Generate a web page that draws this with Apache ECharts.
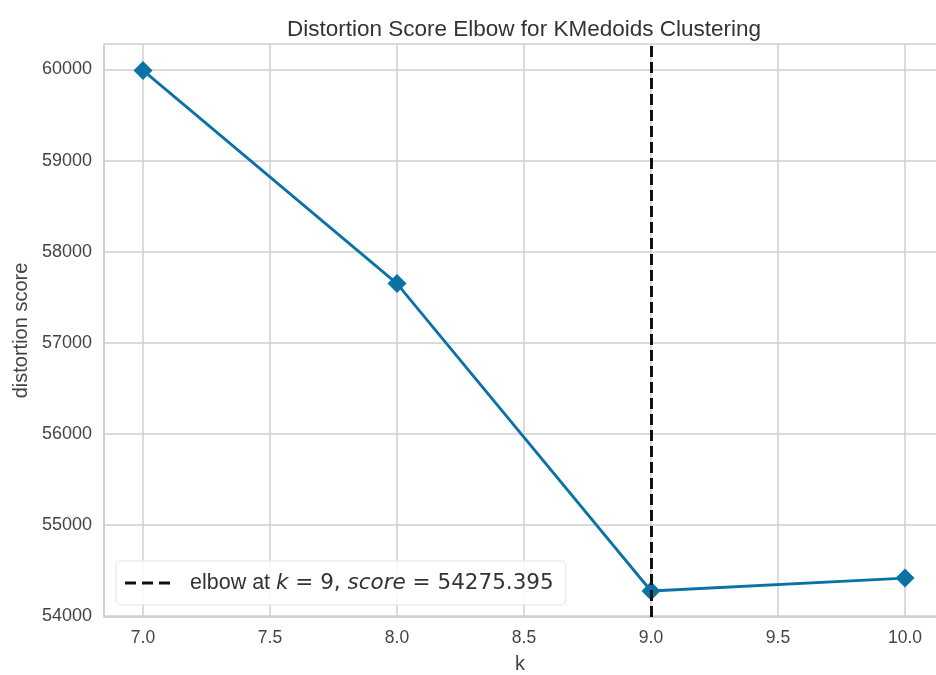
<!DOCTYPE html>
<html>
<head>
<meta charset="utf-8">
<script src="https://cdn.jsdelivr.net/npm/echarts@6/dist/echarts.min.js"></script>
<style>
  html, body { margin: 0; padding: 0; background: #fff; }
  #chart { width: 936px; height: 675px; }
</style>
</head>
<body>
<div id="chart"></div>
<script>
// values
const kValues = [7, 8, 9, 10];
const distortion = [59990, 57650, 54275.395, 54417];
const elbowK = 9;
const elbowScore = '54275.395';
const xLimits = [6.8465, 10.122];
const yLimits = [53990, 60280];

const points = kValues.map((k, i) => [k, distortion[i]]);
const textColor = '#444';
const gridColor = '#cfcfcf';

const chart = echarts.init(document.getElementById('chart'));

const option = {
  backgroundColor: '#fff',
  animation: false,
  title: {
    text: 'Distortion Score Elbow for KMedoids Clustering',
    left: 519,
    textAlign: 'center',
    top: 13,
    textStyle: {
      fontFamily: 'Liberation Sans',
      fontSize: 22.5,
      fontWeight: 'normal',
      color: '#333'
    }
  },
  grid: {
    left: 104,
    right: 0,
    top: 44,
    bottom: 58,
    outerBoundsMode: 'none',
    containLabel: false,
    show: false
  },
  legend: {
    left: 116,
    top: 561,
    padding: [11, 12, 11, 9],
    backgroundColor: 'rgba(255,255,255,0.85)',
    borderColor: '#e3e3e3',
    borderWidth: 1,
    borderRadius: 5,
    itemWidth: 45,
    itemHeight: 14,
    data: [{
      name: 'elbow',
      icon: 'path://M0,0h11v3h-11z M17,0h11v3h-11z M34,0h11v3h-11z',
      itemStyle: { color: '#111' }
    }],
    formatter: function () {
      return '{a|elbow at }{i|k}{m| = 9, }{i|score}{m| = ' + elbowScore + '}';
    },
    textStyle: {
      color: '#333',
      rich: {
        a: { fontFamily: 'Liberation Sans', fontSize: 21.5, color: '#333', padding: [0, 0, 0, 15] },
        i: { fontFamily: 'DejaVu Sans', fontStyle: 'italic', fontSize: 21.5, color: '#333' },
        m: { fontFamily: 'DejaVu Sans', fontSize: 21.5, color: '#333' }
      }
    }
  },
  xAxis: {
    type: 'value',
    min: xLimits[0],
    max: xLimits[1],
    splitNumber: 6,
    name: 'k',
    nameLocation: 'middle',
    nameGap: 37,
    nameTextStyle: { fontFamily: 'Liberation Sans', fontSize: 20, color: textColor },
    axisLine: { show: true, lineStyle: { color: gridColor, width: 1.5 } },
    axisTick: { show: false },
    splitLine: { show: true, showMaxLine: false, lineStyle: { color: gridColor, width: 1.5 } },
    axisLabel: {
      showMinLabel: false,
      showMaxLabel: false,
      margin: 12,
      fontFamily: 'Liberation Sans',
      fontSize: 17.5,
      color: textColor,
      formatter: v => v.toFixed(1)
    }
  },
  yAxis: {
    type: 'value',
    min: yLimits[0],
    max: yLimits[1],
    splitNumber: 6,
    name: 'distortion score',
    nameLocation: 'middle',
    nameRotate: 90,
    nameGap: 73,
    nameTextStyle: { fontFamily: 'Liberation Sans', fontSize: 20, color: textColor },
    axisLine: { show: true, lineStyle: { color: gridColor, width: 1.5 } },
    axisTick: { show: false },
    splitLine: { show: true, lineStyle: { color: gridColor, width: 1.5 } },
    axisLabel: {
      showMinLabel: false,
      showMaxLabel: false,
      margin: 12,
      fontFamily: 'Liberation Sans',
      fontSize: 18,
      color: textColor,
      formatter: v => String(v)
    }
  },
  series: [
    {
      name: 'distortion',
      type: 'line',
      data: points,
      symbol: 'diamond',
      symbolSize: 19,
      lineStyle: { color: '#0b72a6', width: 2.8 },
      itemStyle: { color: '#0b72a6' },
      z: 3
    },
    {
      name: 'elbow',
      type: 'line',
      data: [],
      symbol: 'none',
      color: '#111',
      lineStyle: { color: '#111', width: 3, type: [11, 5] },
      z: 5,
      markLine: {
        silent: true,
        symbol: 'none',
        label: { show: false },
        lineStyle: { color: '#111', width: 3, type: [11, 5] },
        data: [{ xAxis: elbowK }]
      }
    }
  ]
};

chart.setOption(option);
</script>
</body>
</html>
